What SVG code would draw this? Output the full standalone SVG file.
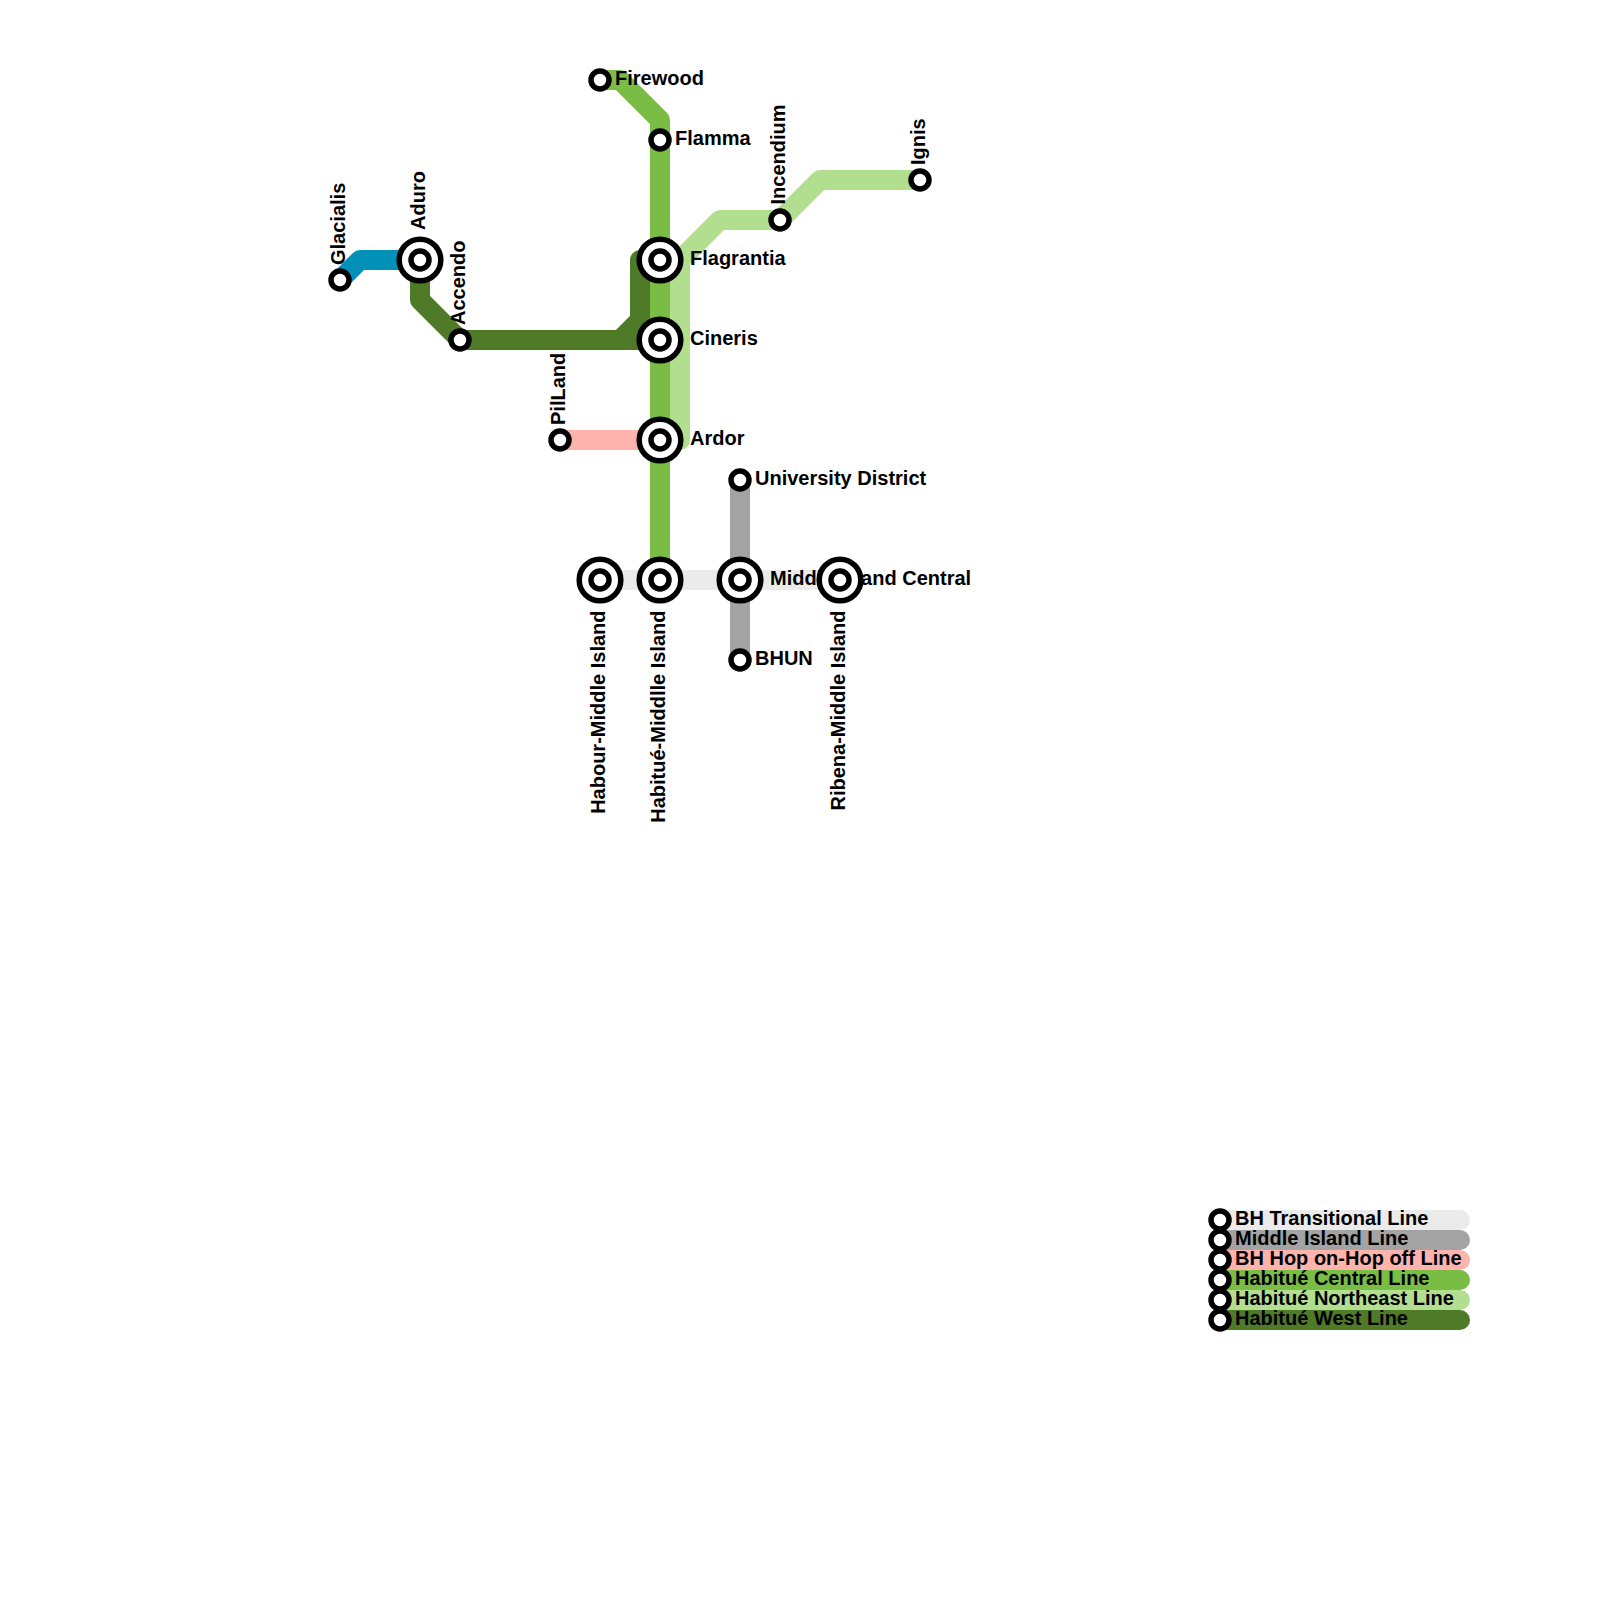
<svg xmlns="http://www.w3.org/2000/svg" width="1600" height="1600" viewBox="0 0 1600 1600">
<style>
.l{fill:none;stroke-width:20;stroke-linejoin:round;stroke-linecap:butt}
.c{stroke-linecap:round}
.s{fill:#fff;stroke:#000;stroke-width:5.5}
text{font-family:"Liberation Sans",Arial,sans-serif;font-weight:700;font-size:20px;fill:#000}
.t{stroke:#ebebeb}.m{stroke:#a3a3a3}.h{stroke:#ffb3ad}.a{stroke:#7abd44}.n{stroke:#b2de8f}.w{stroke:#4f7a28}.b{stroke:#0090b8}
</style>
<defs>
<g id="small"><circle class="s" r="9"/></g>
<g id="big"><circle class="s" r="20.8"/><circle class="s" r="9"/></g>
</defs>
<g id="connectors">
<path class="l t" d="M600 580H840"/>
<path class="l m" d="M740 480V660"/>
<path class="l h" d="M560 440H660"/>
<path class="l a" d="M600 80H620L660 120V580"/>
<path class="l n" d="M660 440H680V260L720 220H780L820 180H920"/>
<path class="l w" d="M420 260V300L460 340H660"/>
<path class="l w" d="M620 340L640 320V260H660"/>
<path class="l b" d="M340 280L360 260H420"/>
</g>
<g id="n-glacialis"><use href="#small" x="340" y="280"/><text transform="translate(344.5 265) rotate(-90)">Glacialis</text></g>
<g id="n-aduro"><use href="#big" x="420" y="260"/><text transform="translate(424.5 230) rotate(-90)">Aduro</text></g>
<g id="n-accendo"><use href="#small" x="460" y="340"/><text transform="translate(464.5 325) rotate(-90)">Accendo</text></g>
<g id="n-piland"><use href="#small" x="560" y="440"/><text transform="translate(564.5 425) rotate(-90)">PilLand</text></g>
<g id="n-firewood"><use href="#small" x="600" y="80"/><text x="615" y="85">Firewood</text></g>
<g id="n-flamma"><use href="#small" x="660" y="140"/><text x="675" y="145">Flamma</text></g>
<g id="n-flagrantia"><use href="#big" x="660" y="260"/><text x="690" y="265">Flagrantia</text></g>
<g id="n-cineris"><use href="#big" x="660" y="340"/><text x="690" y="345">Cineris</text></g>
<g id="n-ardor"><use href="#big" x="660" y="440"/><text x="690" y="445">Ardor</text></g>
<g id="n-incendium"><use href="#small" x="780" y="220"/><text transform="translate(785 204.5) rotate(-90)">Incendium</text></g>
<g id="n-ignis"><use href="#small" x="920" y="180"/><text transform="translate(925 165) rotate(-90)">Ignis</text></g>
<g id="n-university"><use href="#small" x="740" y="480"/><text x="755" y="485">University District</text></g>
<g id="n-bhun"><use href="#small" x="740" y="660"/><text x="755" y="665">BHUN</text></g>
<g id="n-habour"><use href="#big" x="600" y="580"/><text text-anchor="end" transform="translate(605 610.5) rotate(-90)">Habour-Middle Island</text></g>
<g id="n-habitue"><use href="#big" x="660" y="580"/><text text-anchor="end" transform="translate(665 610.5) rotate(-90)">Habitué-Middlle Island</text></g>
<g id="n-central"><use href="#big" x="740" y="580"/><text x="770" y="585">Middle Island Central</text></g>
<g id="n-ribena"><use href="#big" x="840" y="580"/><text text-anchor="end" transform="translate(845 610.5) rotate(-90)">Ribena-Middle Island</text></g>
<g id="legend">
<path class="l c t" d="M1220 1220H1460"/>
<path class="l c m" d="M1220 1240H1460"/>
<path class="l c h" d="M1220 1260H1460"/>
<path class="l c a" d="M1220 1280H1460"/>
<path class="l c n" d="M1220 1300H1460"/>
<path class="l c w" d="M1220 1320H1460"/>
<use href="#small" x="1220" y="1220"/><use href="#small" x="1220" y="1240"/><use href="#small" x="1220" y="1260"/><use href="#small" x="1220" y="1280"/><use href="#small" x="1220" y="1300"/><use href="#small" x="1220" y="1320"/>
<text x="1235" y="1225">BH Transitional Line</text>
<text x="1235" y="1245">Middle Island Line</text>
<text x="1235" y="1265">BH Hop on-Hop off Line</text>
<text x="1235" y="1285">Habitué Central Line</text>
<text x="1235" y="1305">Habitué Northeast Line</text>
<text x="1235" y="1325">Habitué West Line</text>
</g>
</svg>
